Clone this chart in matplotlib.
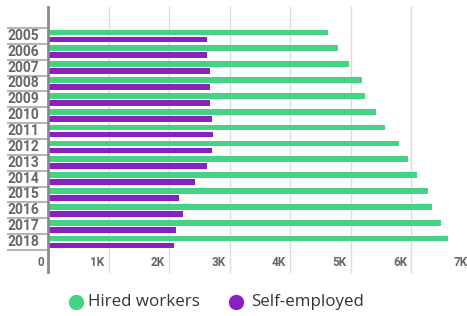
import matplotlib
matplotlib.use("Agg")
import matplotlib.pyplot as plt
import matplotlib.transforms as mtransforms
from matplotlib.lines import Line2D
import numpy as np

years = ["2005", "2006", "2007", "2008", "2009", "2010", "2011",
         "2012", "2013", "2014", "2015", "2016", "2017", "2018"]
hired = [4630, 4780, 4970, 5190, 5240, 5410, 5570,
         5800, 5950, 6100, 6280, 6340, 6480, 6610]
self_emp = [2630, 2630, 2670, 2670, 2670, 2710, 2720,
            2700, 2630, 2420, 2160, 2230, 2120, 2080]
x_ticks = [0, 1000, 2000, 3000, 4000, 5000, 6000, 7000]
x_labels = ["0", "1K", "2K", "3K", "4K", "5K", "6K", "7K"]
series_names = ["Hired workers", "Self-employed"]

GREEN = "#44d384"
PURPLE = "#8a1fc2"

W, H = 467, 316
fig = plt.figure(figsize=(W / 100, H / 100), dpi=100)
# axes spans x 48..472 px, y 7..250 px (from top)
ax = fig.add_axes([48 / W, (H - 250) / H, (472 - 48) / W, 243 / H])

y = np.arange(len(years))
ax.barh(y - 0.22, hired, height=0.36, color=GREEN, zorder=3)
ax.barh(y + 0.22, self_emp, height=0.36, color=PURPLE, zorder=3)

ax.set_xlim(0, 7000)
ax.set_ylim(len(years) - 0.5, -1.82)
for s in ax.spines.values():
    s.set_visible(False)
ax.set_xticks([])
ax.set_yticks([])

# vertical gridlines extending below the plot
ext = -22 / 243
for t in x_ticks[1:]:
    ax.axvline(t, ymin=ext, ymax=1, color="#dcdcdc", lw=1, clip_on=False, zorder=1)
ax.axvline(0, ymin=ext, ymax=1, color="#8a8a8a", lw=2, clip_on=False, zorder=4)

# x tick labels, right aligned just left of each line
trans_x = mtransforms.blended_transform_factory(ax.transData, ax.transAxes)
off = mtransforms.offset_copy(trans_x, fig=fig, x=-4, y=0, units="dots")
for t, lab in zip(x_ticks, x_labels):
    ax.text(t, -12 / 243, lab, transform=off, ha="right", va="center",
            fontsize=8.5, color="#666666", fontweight="bold", family="Roboto",
            clip_on=False)

# category labels with separator lines on the left
trans_y = mtransforms.blended_transform_factory(ax.transAxes, ax.transData)
left = -41 / 424
for i, yr in enumerate(years):
    ax.text(left + 0.002, i, yr, transform=trans_y, ha="left", va="center",
            fontsize=10, color="#666666", fontweight="bold", family="Roboto")
for b in np.arange(len(years) + 1) - 0.5:
    ax.plot([left, 0], [b, b], transform=trans_y, color="#b5b5b5", lw=1.5,
            clip_on=False, solid_capstyle="butt")

# legend drawn by hand: marker + label
leg_y = (H - 302) / H
for (cx, tx), name, col in zip([(76, 88), (236, 251)], series_names, [GREEN, PURPLE]):
    fig.add_artist(Line2D([cx / W], [leg_y], marker="o", ls="", color=col,
                          markersize=10, transform=fig.transFigure))
    fig.text(tx / W, leg_y, name, ha="left", va="center", fontsize=12.2,
             family="Open Sans", color="#333333")

fig.savefig("out.png", dpi=100, facecolor="white")
